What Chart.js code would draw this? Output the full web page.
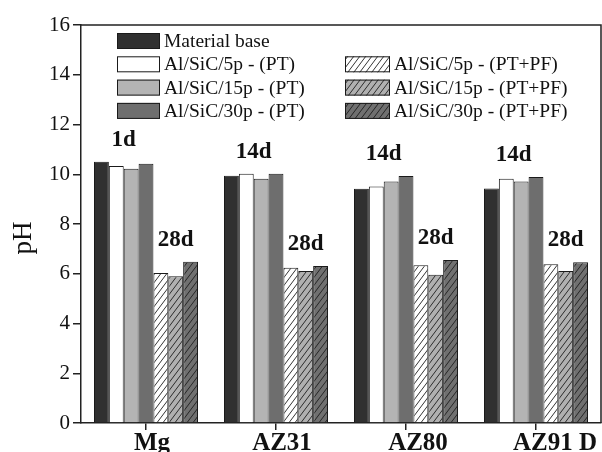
<!DOCTYPE html>
<html>
<head>
<meta charset="utf-8">
<script src="https://cdn.jsdelivr.net/npm/chart.js@4.4.1/dist/chart.umd.min.js"></script>
<style>
  html, body { margin: 0; padding: 0; background: #fff; }
  #wrap { width: 602px; height: 452px; }
</style>
</head>
<body>
<div id="wrap"><canvas id="chart" width="602" height="452"></canvas></div>
<script>
const categories = ["Mg", "AZ31", "AZ80", "AZ91 D"];
const seriesLabels = [
  "Material base",
  "Al/SiC/5p - (PT)",
  "Al/SiC/15p - (PT)",
  "Al/SiC/30p - (PT)",
  "Al/SiC/5p - (PT+PF)",
  "Al/SiC/15p - (PT+PF)",
  "Al/SiC/30p - (PT+PF)",
];
const materialBase = [10.5, 9.94, 9.42, 9.43];
const pt5 = [10.33, 10.02, 9.51, 9.82];
const pt15 = [10.22, 9.82, 9.71, 9.71];
const pt30 = [10.42, 10.02, 9.93, 9.89];
const ptpf5 = [6.03, 6.24, 6.34, 6.38];
const ptpf15 = [5.9, 6.11, 5.96, 6.11];
const ptpf30 = [6.48, 6.31, 6.55, 6.46];
const earlyDays = ["1d", "14d", "14d", "14d"];
const lateDays = ["28d", "28d", "28d", "28d"];
const yMin = 0;
const yMax = 16;
const yStep = 2;

const SERIF = '"Liberation Serif", "Times New Roman", serif';

function hatch(bg) {
  const w = 6, h = 8;
  const c = document.createElement("canvas");
  c.width = w;
  c.height = h;
  const g = c.getContext("2d");
  g.fillStyle = bg;
  g.fillRect(0, 0, w, h);
  g.strokeStyle = "#1e1e1e";
  g.lineWidth = 0.9;
  g.beginPath();
  g.moveTo(0, h); g.lineTo(w, 0);
  g.moveTo(-w, h); g.lineTo(0, 0);
  g.moveTo(w, h); g.lineTo(2 * w, 0);
  g.stroke();
  return g.createPattern(c, "repeat");
}

const fills = [
  "#303030",
  "#ffffff",
  "#b4b4b4",
  "#6e6e6e",
  hatch("#ffffff"),
  hatch("#b0b0b0"),
  hatch("#707070"),
];
const values = [materialBase, pt5, pt15, pt30, ptpf5, ptpf15, ptpf30];

const datasets = values.map((v, i) => ({
  label: seriesLabels[i],
  data: v,
  backgroundColor: fills[i],
  borderColor: "#1a1a1a",
  borderWidth: 1,
  borderSkipped: "bottom",
  categoryPercentage: 0.8,
  barPercentage: 1.0,
}));

// nudges for the category names, they sit a bit right of their ticks
const xLabelShift = [6, 6, 12, 19];

const extras = {
  id: "extras",
  afterDraw(chart) {
    const { ctx, chartArea: a, scales } = chart;
    ctx.save();

    // frame top + right
    ctx.strokeStyle = "#222";
    ctx.lineWidth = 1.5;
    ctx.beginPath();
    ctx.moveTo(a.left, a.top);
    ctx.lineTo(a.right, a.top);
    ctx.lineTo(a.right, a.bottom);
    ctx.stroke();

    // y title, sits a little below the middle in the original
    ctx.fillStyle = "#111";
    ctx.font = "27px " + SERIF;
    ctx.textAlign = "center";
    ctx.textBaseline = "middle";
    ctx.save();
    ctx.translate(24, 238);
    ctx.rotate(-Math.PI / 2);
    ctx.fillText("pH", 0, 0);
    ctx.restore();

    // category names
    ctx.font = "bold 25px " + SERIF;
    ctx.textAlign = "center";
    ctx.textBaseline = "alphabetic";
    categories.forEach((c, i) => {
      ctx.fillText(c, scales.x.getPixelForValue(i) + xLabelShift[i], 450);
    });

    // day labels over each half of a group
    ctx.font = "bold 23px " + SERIF;
    const dayLabel = (from, to, idx, text) => {
      let top = Infinity;
      const bars = [];
      for (let d = from; d <= to; d++) {
        const el = chart.getDatasetMeta(d).data[idx];
        bars.push(el);
        top = Math.min(top, el.y);
      }
      const first = bars[0];
      const last = bars[bars.length - 1];
      const x = (first.x - first.width / 2 + last.x + last.width / 2) / 2;
      ctx.fillText(text, x, top - 16);
    };
    categories.forEach((c, i) => {
      dayLabel(0, 3, i, earlyDays[i]);
      dayLabel(4, 6, i, lateDays[i]);
    });

    // legend, two columns
    ctx.font = "19.5px " + SERIF;
    ctx.textAlign = "left";
    ctx.textBaseline = "middle";
    const rowTop = (r) => 33 + r * 23.3;
    chart.data.datasets.forEach((ds, i) => {
      const col = i < 4 ? 0 : 1;
      const row = i < 4 ? i : i - 3;
      const x = col === 0 ? 117 : 345;
      const w = col === 0 ? 43 : 45;
      const y = rowTop(row);
      ctx.fillStyle = ds.backgroundColor;
      ctx.fillRect(x, y, w, 16);
      ctx.strokeStyle = "#1a1a1a";
      ctx.lineWidth = 1;
      ctx.strokeRect(x + 0.5, y + 0.5, w - 1, 15);
      ctx.fillStyle = "#111";
      ctx.fillText(ds.label, x + w + 4, y + 9);
    });

    ctx.restore();
  },
};

new Chart(document.getElementById("chart"), {
  type: "bar",
  data: { labels: categories, datasets },
  plugins: [extras],
  options: {
    responsive: false,
    animation: false,
    layout: { padding: { top: 25, right: 1, left: 0, bottom: 0 } },
    plugins: {
      legend: { display: false },
      tooltip: { enabled: false },
    },
    scales: {
      x: {
        offset: true,
        afterFit: (s) => { s.height = 29; },
        grid: {
          offset: false,
          drawOnChartArea: false,
          drawTicks: true,
          tickLength: 7,
          color: "#222",
          lineWidth: 1.5,
        },
        border: { display: true, color: "#222", width: 1.5 },
        ticks: { color: "rgba(0,0,0,0)", font: { size: 10 } },
      },
      y: {
        min: yMin,
        max: yMax,
        afterFit: (s) => { s.width = 81; },
        grid: {
          drawOnChartArea: false,
          drawTicks: true,
          tickLength: 8,
          color: "#222",
          lineWidth: 1.5,
        },
        border: { display: true, color: "#222", width: 1.5 },
        ticks: {
          stepSize: yStep,
          padding: 3,
          color: "#111",
          font: { family: SERIF, size: 21 },
        },
      },
    },
  },
});
</script>
</body>
</html>
